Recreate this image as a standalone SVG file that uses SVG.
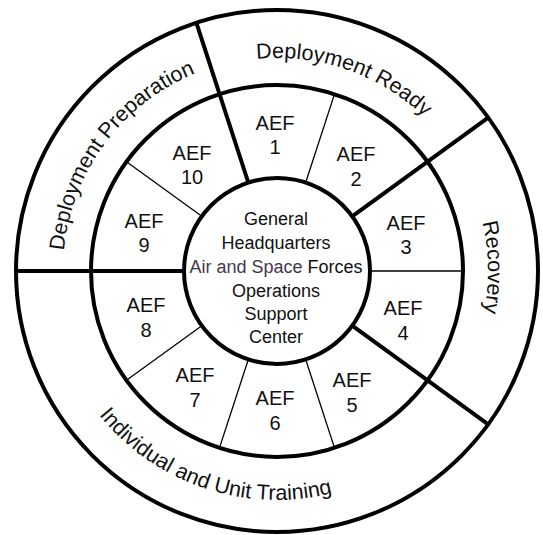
<svg xmlns="http://www.w3.org/2000/svg" xmlns:xlink="http://www.w3.org/1999/xlink" width="543" height="535" viewBox="0 0 543 535">
<style>
.ring{fill:none;stroke:#000;stroke-width:4}
.thick{stroke:#000;stroke-width:4;fill:none}
.thin{stroke:#000;stroke-width:1.3;fill:none}
.aef{font-family:"Liberation Sans",Arial,sans-serif;font-size:20px;fill:#111;text-anchor:middle}
.ctr{font-family:"Liberation Sans",Arial,sans-serif;font-size:18px;fill:#111;text-anchor:middle}
.phase{font-family:"Liberation Sans",Arial,sans-serif;font-size:21.5px;fill:#111}
</style>
<defs>
<path id="pPrep" d="M 80.7 356.3 A 214 214 0 0 1 301.2 58.4"/>
<path id="pReady" d="M 137.5 110 A 213 213 0 0 1 486.2 230.7"/>
<path id="pRec" d="M 379.3 86.5 A 211 211 0 0 1 385.7 451.9"/>
<path id="pTrain" d="M 52.6 316.7 A 229 229 0 0 0 428.7 442.5"/>
</defs>
<rect width="543" height="535" fill="#fff"/>
<g id="connectors">
<line class="thick" x1="352.2" y1="216.3" x2="488.2" y2="117.6"/>
<line class="thick" x1="248.3" y1="182.5" x2="196.4" y2="22.8"/>
<line class="thick" x1="184" y1="271" x2="16" y2="271"/>
<line class="thick" x1="352.2" y1="325.7" x2="488.2" y2="424.4"/>
<line class="thin" x1="370" y1="271" x2="463" y2="271"/>
<line class="thin" x1="305.7" y1="182.5" x2="334.5" y2="94.1"/>
<line class="thin" x1="201.8" y1="216.3" x2="126.5" y2="161.7"/>
<line class="thin" x1="201.8" y1="325.7" x2="126.5" y2="380.3"/>
<line class="thin" x1="248.3" y1="359.5" x2="219.5" y2="447.9"/>
<line class="thin" x1="305.7" y1="359.5" x2="334.5" y2="447.9"/>
</g>
<g id="rings">
<circle class="ring" cx="277" cy="271" r="261"/>
<circle class="ring" cx="277" cy="271" r="186"/>
</g>
<g id="center">
<circle class="ring" cx="277" cy="271" r="93"/>
<text class="ctr" x="276" y="225">General<tspan x="276" dy="24">Headquarters</tspan><tspan x="276" dy="24" fill="#45384a">Air and Space</tspan> Forces<tspan x="276" dy="24">Operations</tspan><tspan x="276" dy="23">Support</tspan><tspan x="276" dy="23">Center</tspan></text>
</g>
<g id="aef1"><text class="aef" x="275" y="130">AEF<tspan x="275" dy="24">1</tspan></text></g>
<g id="aef2"><text class="aef" x="356" y="161">AEF<tspan x="356" dy="25">2</tspan></text></g>
<g id="aef3"><text class="aef" x="406" y="230">AEF<tspan x="406" dy="24">3</tspan></text></g>
<g id="aef4"><text class="aef" x="403" y="315">AEF<tspan x="403" dy="25">4</tspan></text></g>
<g id="aef5"><text class="aef" x="352" y="387">AEF<tspan x="352" dy="25">5</tspan></text></g>
<g id="aef6"><text class="aef" x="275" y="405">AEF<tspan x="275" dy="25">6</tspan></text></g>
<g id="aef7"><text class="aef" x="195" y="382">AEF<tspan x="195" dy="25">7</tspan></text></g>
<g id="aef8"><text class="aef" x="146" y="312">AEF<tspan x="146" dy="25">8</tspan></text></g>
<g id="aef9"><text class="aef" x="144" y="228">AEF<tspan x="144" dy="24">9</tspan></text></g>
<g id="aef10"><text class="aef" x="192" y="160">AEF<tspan x="192" dy="24">10</tspan></text></g>
<g id="phase-prep"><text class="phase"><textPath xlink:href="#pPrep" href="#pPrep" startOffset="50%" text-anchor="middle">Deployment Preparation</textPath></text></g>
<g id="phase-ready"><text class="phase"><textPath xlink:href="#pReady" href="#pReady" startOffset="50%" text-anchor="middle">Deployment Ready</textPath></text></g>
<g id="phase-recovery"><text class="phase"><textPath xlink:href="#pRec" href="#pRec" startOffset="50%" text-anchor="middle">Recovery</textPath></text></g>
<g id="phase-training"><text class="phase"><textPath xlink:href="#pTrain" href="#pTrain" startOffset="50%" text-anchor="middle">Individual and Unit Training</textPath></text></g>
</svg>
